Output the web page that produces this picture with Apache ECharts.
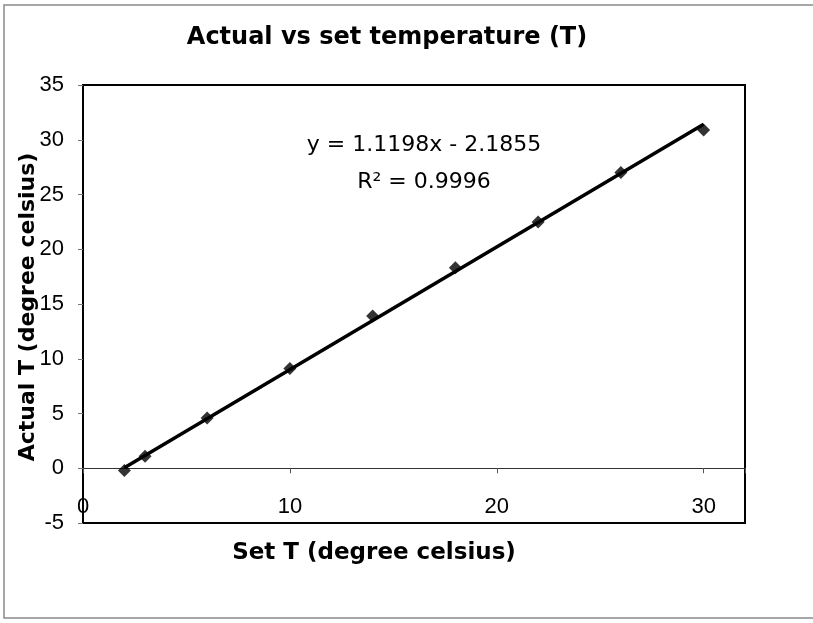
<!DOCTYPE html>
<html>
<head>
<meta charset="utf-8">
<script src="https://cdn.jsdelivr.net/npm/echarts@6/dist/echarts.min.js"></script>
<style>
  html, body { margin: 0; padding: 0; background: #fff; }
  #chart { width: 813px; height: 623px; }
</style>
</head>
<body>
<div id="chart"></div>
<script>
// Set temperature (°C) and the measured actual temperature (°C)
const setT = [2, 3, 6, 10, 14, 18, 22, 26, 30];
const actualT = [-0.2, 1.1, 4.6, 9.1, 13.9, 18.3, 22.5, 27.0, 30.9];

// Linear trendline fitted to the readings
const fitSlope = 1.1198;
const fitIntercept = -2.1855;
const fitR2 = 0.9996;

const xTicks = [0, 10, 20, 30];
const yTicks = [-5, 0, 5, 10, 15, 20, 25, 30, 35];

const points = setT.map((x, i) => [x, actualT[i]]);
const fitX = [setT[0], setT[setT.length - 1]];
const fitLine = fitX.map(x => [x, fitSlope * x + fitIntercept]);

const FONT = '"DejaVu Sans", "Liberation Sans", Arial, sans-serif';
const TICK_FONT = '"Liberation Sans", Arial, sans-serif';

const chart = echarts.init(document.getElementById('chart'), null, { renderer: 'canvas' });
chart.setOption({
  backgroundColor: '#fff',
  animation: false,
  textStyle: { fontFamily: FONT },
  grid: {
    left: 83, top: 85, right: 68, bottom: 100,
    show: true, borderColor: '#000', borderWidth: 2, backgroundColor: '#fff'
  },
  xAxis: {
    type: 'value', min: 0, max: 32, interval: 10,
    axisLine: { onZero: true, lineStyle: { color: '#333', width: 1 } },
    axisTick: { show: true, inside: false, length: 5, lineStyle: { color: '#555' } },
    axisLabel: {
      color: '#000', fontSize: 22, fontFamily: TICK_FONT, margin: -27,
      formatter: v => (xTicks.includes(v) ? String(v) : '')
    },
    splitLine: { show: false }
  },
  yAxis: {
    type: 'value', min: -5, max: 35, interval: 5,
    axisLine: { show: true, onZero: false, lineStyle: { color: '#000', width: 2 } },
    axisTick: { show: true, length: 5, lineStyle: { color: '#777' } },
    axisLabel: {
      color: '#000', fontSize: 22, fontFamily: TICK_FONT, margin: 19,
      formatter: v => (yTicks.includes(v) ? String(v) : '')
    },
    splitLine: { show: false }
  },
  series: [
    {
      type: 'line', data: fitLine, showSymbol: false, symbol: 'none',
      lineStyle: { color: '#000', width: 3.5 }, z: 3
    },
    {
      type: 'scatter', data: points, symbol: 'diamond', symbolSize: 13,
      itemStyle: { color: '#000' }, z: 4
    }
  ],
  graphic: [
    {
      type: 'rect', shape: { x: 4, y: 5, width: 830, height: 613 },
      style: { fill: 'none', stroke: '#8a8a8a', lineWidth: 1.5 }, z: -10
    },
    {
      type: 'text', x: 387, y: 38,
      style: { text: 'Actual vs set temperature (T)', font: 'bold 24px ' + FONT, fill: '#000', align: 'center', verticalAlign: 'middle' }
    },
    {
      type: 'text', x: 374, y: 553,
      style: { text: 'Set T (degree celsius)', font: 'bold 23px ' + FONT, fill: '#000', align: 'center', verticalAlign: 'middle' }
    },
    {
      type: 'text', x: 28, y: 307, rotation: Math.PI / 2,
      style: { text: 'Actual T (degree celsius)', font: 'bold 22px ' + FONT, fill: '#000', align: 'center', verticalAlign: 'middle' }
    },
    {
      type: 'text', x: 424, y: 145,
      style: { text: 'y = ' + fitSlope + 'x - ' + Math.abs(fitIntercept), font: '22px ' + FONT, fill: '#000', align: 'center', verticalAlign: 'middle' }
    },
    {
      type: 'text', x: 424, y: 182,
      style: { text: 'R² = ' + fitR2, font: '22px ' + FONT, fill: '#000', align: 'center', verticalAlign: 'middle' }
    }
  ]
});
</script>
</body>
</html>
